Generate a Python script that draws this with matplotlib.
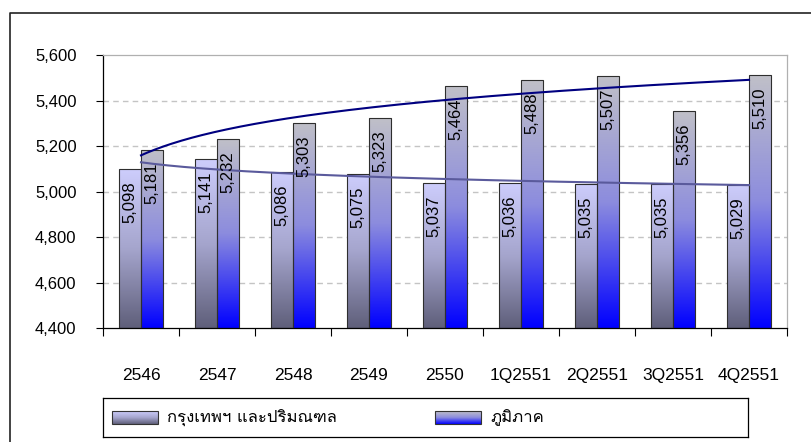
import numpy as np
import matplotlib
matplotlib.use("Agg")
import matplotlib.pyplot as plt
from matplotlib.colors import LinearSegmentedColormap
from matplotlib.lines import Line2D

categories = ["2546", "2547", "2548", "2549", "2550",
              "1Q2551", "2Q2551", "3Q2551", "4Q2551"]
bangkok = [5098, 5141, 5086, 5075, 5037, 5036, 5035, 5035, 5029]
regions = [5181, 5232, 5303, 5323, 5464, 5488, 5507, 5356, 5510]
series_names = ["กรุงเทพฯ และปริมณฑล", "ภูมิภาค"]

y_min, y_max, y_step = 4400, 5600, 200

plt.rcParams["font.family"] = ["Liberation Sans", "DejaVu Sans"]
thai_font = ["Loma", "DejaVu Sans"]

# vertical gradients, listed from the bottom of a bar to its top
cmap_bkk = LinearSegmentedColormap.from_list(
    "bkk", [(95/255, 95/255, 122/255), (165/255, 165/255, 205/255),
            (205/255, 205/255, 252/255)])
cmap_reg = LinearSegmentedColormap.from_list(
    "reg", [(0, 0, 1), (140/255, 140/255, 222/255),
            (192/255, 192/255, 200/255)])
grad = np.linspace(0, 1, 256).reshape(-1, 1)

W, H = 812, 442
fig = plt.figure(figsize=(W / 100, H / 100), dpi=100)
ax = fig.add_axes([103 / W, 1 - 328 / H, 684 / W, 273 / H])

x = np.arange(len(categories))
bw = 0.29


def gradient_bars(xpos, values, cmap):
    bars = ax.bar(xpos, np.array(values) - y_min, bottom=y_min, width=bw,
                  facecolor="none", edgecolor="#2e2e2e", linewidth=0.8,
                  zorder=3)
    for rect in bars:
        x0, y0 = rect.get_x(), rect.get_y()
        im = ax.imshow(grad, cmap=cmap, origin="lower", aspect="auto",
                       extent=[x0, x0 + rect.get_width(), y0,
                               y0 + rect.get_height()],
                       interpolation="bilinear", zorder=2)
        im.set_clip_path(rect)
    return bars


gradient_bars(x - bw / 2, bangkok, cmap_bkk)
gradient_bars(x + bw / 2, regions, cmap_reg)

# value labels inside the top end of each bar
for xs, vals in ((x - bw / 2, bangkok), (x + bw / 2, regions)):
    for xi, v in zip(xs, vals):
        ax.annotate(f"{v:,}", xy=(xi, v), xytext=(0, -9),
                    textcoords="offset points", rotation=90,
                    ha="center", va="top", fontsize=12, zorder=5)

# logarithmic trend lines over the category centres
xt = np.linspace(0, len(categories) - 1, 300)
for vals, col in ((regions, "#000080"), (bangkok, "#5a5a9c")):
    b, a = np.polyfit(np.log(x + 1), vals, 1)
    ax.plot(xt, a + b * np.log(xt + 1), color=col, lw=1.5, zorder=4)

ax.set_xlim(-0.5, len(categories) - 0.5)
ax.set_ylim(y_min, y_max)
ax.set_yticks(np.arange(y_min, y_max + 1, y_step))
ax.yaxis.set_major_formatter(matplotlib.ticker.StrMethodFormatter("{x:,.0f}"))
ax.tick_params(axis="y", length=5, width=0.8, pad=14, labelsize=12,
               direction="out")

ax.set_xticks(x)
ax.set_xticklabels(categories)
ax.set_xticks(np.arange(-0.5, len(categories)), minor=True)
ax.tick_params(axis="x", which="major", length=0, pad=29, labelsize=12.5)
ax.tick_params(axis="x", which="minor", length=6, width=0.8,
               direction="out")

for yv in np.arange(y_min + y_step, y_max, y_step):
    ax.axhline(yv, color="#c4c4c4", lw=1, ls=(0, (4, 3)), zorder=1)

for side in ("left", "bottom"):
    ax.spines[side].set_color("black")
    ax.spines[side].set_linewidth(0.9)
for side in ("top", "right"):
    ax.spines[side].set_color("#b0b0b0")
    ax.spines[side].set_linewidth(0.9)

# legend box below the axis labels
lg = fig.add_axes([103 / W, 1 - 437 / H, 645 / W, 39 / H])
lg.set_xticks([])
lg.set_yticks([])
for s in lg.spines.values():
    s.set_color("black")
    s.set_linewidth(0.9)
for (px, tx), cmap, name in zip(((9, 64), (332, 387)),
                                (cmap_bkk, cmap_reg), series_names):
    lg.imshow(grad, cmap=cmap, origin="lower", aspect="auto",
              extent=[px, px + 46, 26, 13], interpolation="bilinear")
    lg.add_patch(plt.Rectangle((px, 13), 46, 13, fill=False,
                               edgecolor="#333333", lw=0.8))
    lg.text(tx, 20, name, va="center", ha="left", fontsize=12,
            family=thai_font)
lg.set_xlim(0, 645)
lg.set_ylim(39, 0)

# outer chart frame
fig.add_artist(Line2D([10 / W, 10 / W, 1], [0, 1 - 13 / H, 1 - 13 / H],
                      color="#222222", lw=1.2))

fig.savefig("out.png", dpi=100)
